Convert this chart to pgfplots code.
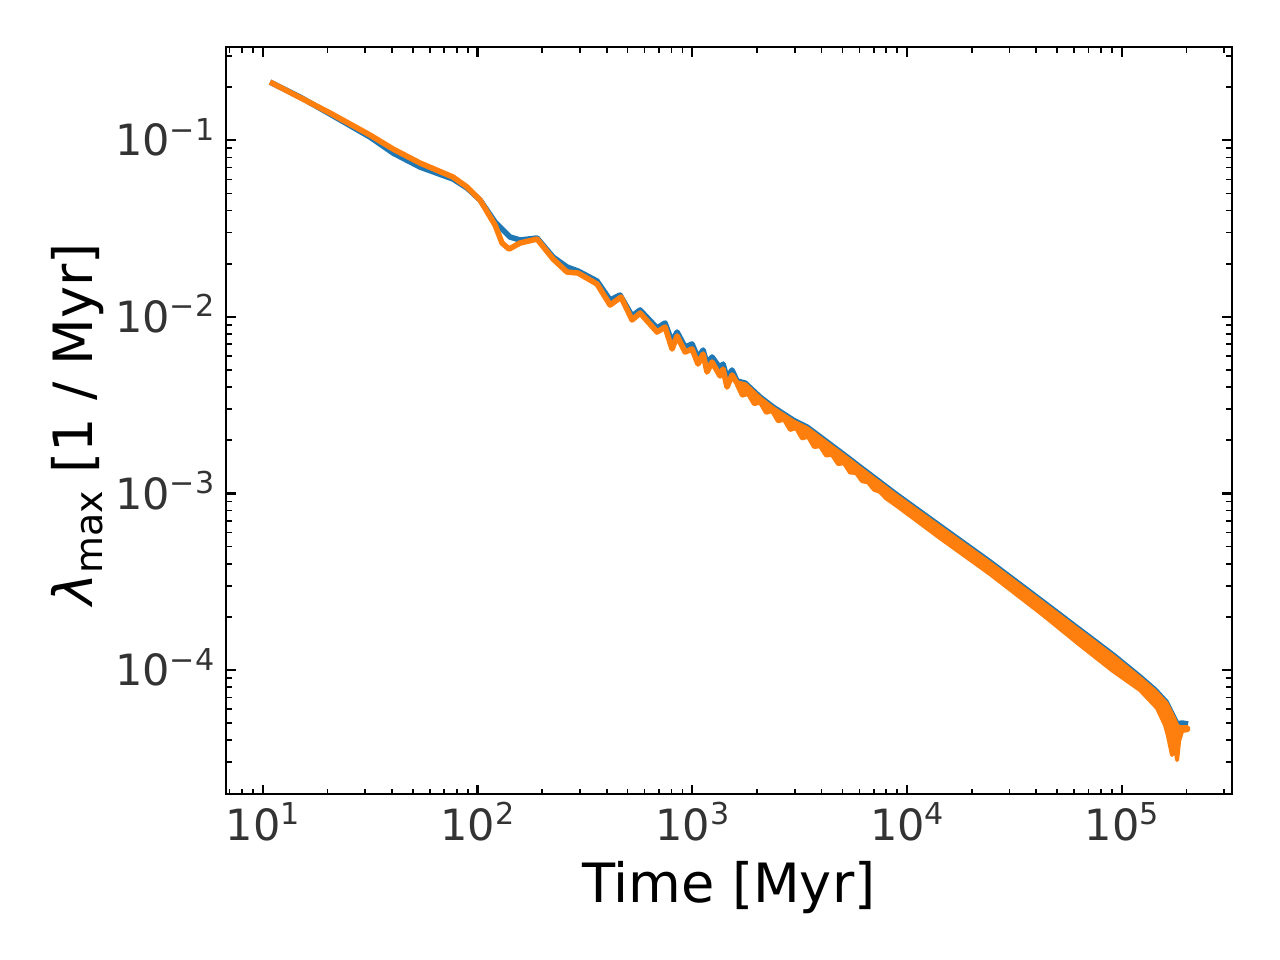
\documentclass[border=0pt]{standalone}
\usepackage{fontspec}
\setmainfont{DejaVu Sans}
\usepackage{pgfplots}
\pgfplotsset{compat=1.18}
\definecolor{C0}{HTML}{1F77B4}
\definecolor{C1}{HTML}{FF7F0E}
\definecolor{tl}{HTML}{333333}
\newcommand{\logtick}{\pgfmathtruncatemacro{\e}{round(\tick)}10\raisebox{5.6pt}{\fontsize{10.85}{10.85}\selectfont\ifnum\e<0 −\number\numexpr-\e\relax\else\e\fi}}
\begin{document}
\begin{tikzpicture}
\begin{axis}[
 at={(0,0)}, anchor=south west, scale only axis,
 width=362.05pt, height=268.9pt,
 xmode=log, ymode=log, log basis x=10, log basis y=10,
 xmin=6.745, xmax=3.25e5, ymin=1.977e-5, ymax=0.3357,
 tick align=inside, tick pos=both,
 major tick length=3.5pt, minor tick length=2pt,
 major tick style={line width=0.8pt, black},
 minor tick style={line width=0.6pt, black},
 axis line style={line width=0.8pt, black},
 xticklabel={\logtick}, yticklabel={\logtick},
 xticklabel style={font=\fontsize{15.5}{15.5}\selectfont, text=tl, anchor=base, yshift=-16.45pt, inner sep=0pt},
 yticklabel style={font=\fontsize{15.5}{15.5}\selectfont, text=tl, anchor=base east, yshift=-5.65pt, xshift=-4pt, inner sep=0pt},
 xlabel={Time [Myr]},
 ylabel={{\itshape λ}\raisebox{-3.4pt}{\fontsize{13.65}{13.65}\selectfont max} [1 / Myr]},
 label style={font=\fontsize{19.5}{19.5}\selectfont},
 xlabel style={at={(axis description cs:0.5,-0.1454)}, anchor=base},
 ylabel style={at={(axis description cs:-0.1323,0.4957)}, anchor=base},
]
\addplot[C0, line width=2pt, line join=round] coordinates {
(10.81,0.2136) (14.92,0.1756) (20.58,0.1407) (31.60,0.1042) (40.44,0.08462)
(54.01,0.07049) (76.93,0.06029) (89.40,0.05362) (102.8,0.04585) (120.7,0.03442)
(141.8,0.02830) (157.8,0.02722) (189.4,0.02794) (224.8,0.02181) (261.2,0.01914)
(293.9,0.01817) (360.4,0.01594) (414.3,0.01245) (461.2,0.01328) (524.6,0.01010)
(571.5,0.01093) (685.6,0.008641) (747.0,0.009224) (805.4,0.007200) (849.7,0.008202)
(925.9,0.006745) (997.9,0.007015) (1064,0.005844) (1123,0.006486) (1172,0.005403)
(1236,0.005921) (1347,0.005129) (1391,0.005403) (1452,0.004502) (1532,0.004998)
(1616,0.004329) (1762,0.004218) (2069,0.003513) (2378,0.003085) (2947,0.002604)
(3424,0.002377) (4243,0.001955) (5259,0.001607) (6045,0.001411) (8988,0.0009793)
(14250,0.0006535) (24370,0.0004088) (43020,0.0002428) (63950,0.0001684)
(91110,0.0001216) (121700,0.00009128) (142900,0.00007702) (160800,0.00006588)
(173400,0.00005489) (180900,0.00004944) (190900,0.00005010) (203600,0.00004944)
};
\addplot[C1, fill=C1, line width=1.5pt, line join=round] coordinates {
(1616,0.004218) (1762,0.004110) (2069,0.003423) (2378,0.003006) (2947,0.002537)
(3424,0.002316) (4243,0.001904) (5259,0.001566) (6045,0.001374) (8988,0.0009541)
(14250,0.0006367) (24370,0.0003982) (43020,0.0002365) (63950,0.0001641)
(91110,0.0001185) (121700,0.00008892) (142900,0.00007504) (160800,0.00006419)
(173400,0.00005348) (180900,0.00004754) (190900,0.00004693) (203600,0.00004693)
(203600,0.00004572) (190900,0.00004516) (184800,0.00003963) (180900,0.00003093)
(177100,0.00003963) (171500,0.00003302) (164300,0.00004229) (159100,0.00004880)
(146000,0.00006091) (121700,0.00007702) (91110,0.00009870) (63950,0.0001385)
(43020,0.0002049) (24370,0.0003496) (14250,0.0005591) (8988,0.0008484)
(7988,0.0009393) (7491,0.001020) (7022,0.001051) (6586,0.001156) (6176,0.001174)
(5792,0.001308) (5430,0.001313) (5093,0.001483) (4775,0.001468) (4477,0.001656)
(4199,0.001641) (3937,0.001852) (3692,0.001833) (3462,0.002097) (3246,0.002051)
(3044,0.002346) (2854,0.002291) (2677,0.002621) (2509,0.002563) (2353,0.002931)
(2207,0.002864) (2069,0.003275) (1940,0.003203) (1819,0.003664) (1706,0.003580)
(1616,0.004110)
} -- cycle;
\addplot[C1, line width=2pt, line join=round] coordinates {
(10.81,0.2136) (20.58,0.1426) (31.60,0.1070) (40.44,0.08916) (54.01,0.07428)
(76.93,0.06188) (89.40,0.05433) (102.8,0.04585) (120.7,0.03310) (130.1,0.02617)
(140.3,0.02420) (157.8,0.02617) (189.4,0.02757) (224.8,0.02125) (261.2,0.01793)
(293.9,0.01770) (360.4,0.01533) (414.3,0.01166) (466.1,0.01294) (524.6,0.009592)
(571.5,0.01051) (685.6,0.008202) (747.0,0.008754) (805.4,0.006572) (849.7,0.007786)
(925.9,0.006320) (997.9,0.006572) (1064,0.005403) (1123,0.006158) (1172,0.004869)
(1236,0.005547) (1347,0.004622) (1391,0.005063) (1452,0.004004) (1532,0.004682)
(1616,0.004218) (1762,0.004110) (2069,0.003423) (2378,0.003006) (2947,0.002537)
(3424,0.002316) (4243,0.001904) (5259,0.001566) (6045,0.001374) (8988,0.0009541)
(14250,0.0006367) (24370,0.0003982) (43020,0.0002365) (63950,0.0001641)
(91110,0.0001185) (121700,0.00008892) (142900,0.00007504) (160800,0.00006419)
(173400,0.00005348) (180900,0.00004754) (190900,0.00004693) (203600,0.00004693)
};
\end{axis}
\pgfresetboundingbox
\path (-81.36pt,-59.65pt) rectangle (379.44pt,285.95pt);
\end{tikzpicture}
\end{document}
